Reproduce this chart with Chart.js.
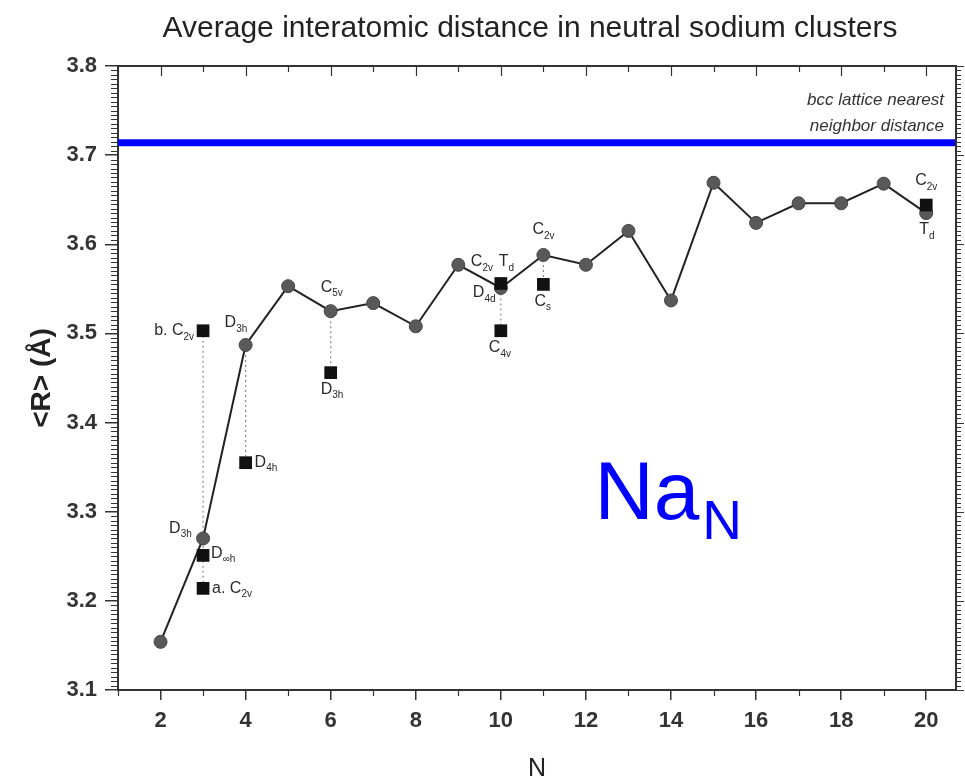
<!DOCTYPE html>
<html>
<head>
<meta charset="utf-8">
<script src="https://cdn.jsdelivr.net/npm/chart.js@4.4.1/dist/chart.umd.min.js"></script>
<style>
  html, body { margin: 0; padding: 0; background: #fff; }
  canvas { display: block; }
</style>
</head>
<body>
<canvas id="chart" width="965" height="783"></canvas>
<script>
// --- data ---
const N_VALUES = [2, 3, 4, 5, 6, 7, 8, 9, 10, 11, 12, 13, 14, 15, 16, 17, 18, 19, 20];
const R_MEAN   = [3.154, 3.270, 3.487, 3.553, 3.525, 3.534, 3.508, 3.577, 3.551, 3.588,
                  3.577, 3.615, 3.537, 3.669, 3.624, 3.646, 3.646, 3.668, 3.635];

// other isomers (squares)
const ISO_N = [3, 3, 3, 4, 6, 10, 10, 11, 20];
const ISO_R = [3.503, 3.251, 3.214, 3.355, 3.456, 3.556, 3.503, 3.555, 3.644];

const BCC_NN = 3.714;
const X_RANGE = [1, 20.7];
const Y_RANGE = [3.1, 3.8];
const X_TICKS = [2, 4, 6, 8, 10, 12, 14, 16, 18, 20];
const Y_TICKS = [3.1, 3.2, 3.3, 3.4, 3.5, 3.6, 3.7, 3.8];

// symmetry labels: value anchor + small pixel offset
const SYM_LABELS = [
    { n: 3,  r: 3.503, main: 'b. C', sub: '2v', dx: -9,  dy: 0, align: 'right' },
    { n: 4,  r: 3.487, main: 'D', sub: '3h', dx: -21, dy: -22 },
    { n: 4,  r: 3.355, main: 'D', sub: '4h', dx: 9,   dy: 0 },
    { n: 3,  r: 3.270, main: 'D', sub: '3h', dx: -34, dy: -10 },
    { n: 3,  r: 3.251, main: 'D', sub: '∞h', dx: 8,   dy: -2 },
    { n: 3,  r: 3.214, main: 'a. C', sub: '2v', dx: 9, dy: 0 },
    { n: 6,  r: 3.525, main: 'C', sub: '5v', dx: -10, dy: -24 },
    { n: 6,  r: 3.456, main: 'D', sub: '3h', dx: -10, dy: 17 },
    { n: 10, r: 3.551, main: 'C', sub: '2v', dx: -30, dy: -26 },
    { n: 10, r: 3.551, main: 'T', sub: 'd',  dx: -2,  dy: -26 },
    { n: 10, r: 3.551, main: 'D', sub: '4d', dx: -28, dy: 5 },
    { n: 10, r: 3.503, main: 'C', sub: '4v', dx: -12, dy: 17 },
    { n: 11, r: 3.588, main: 'C', sub: '2v', dx: -11, dy: -25 },
    { n: 11, r: 3.555, main: 'C', sub: 's',  dx: -9,  dy: 17 },
    { n: 20, r: 3.644, main: 'C', sub: '2v', dx: -11, dy: -24 },
    { n: 20, r: 3.635, main: 'T', sub: 'd',  dx: -7,  dy: 17 },
];

const FONT = "'Liberation Sans', Arial, sans-serif";
const AXIS = '#333';

// dotted connectors between isomers of the same N
const connectorPoints = [];
[...new Set(ISO_N)].forEach(n => {
    const vals = ISO_R.filter((r, i) => ISO_N[i] === n);
    const gi = N_VALUES.indexOf(n);
    if (gi >= 0) vals.push(R_MEAN[gi]);
    if (vals.length < 2) return;
    connectorPoints.push({ x: n, y: Math.max(...vals) }, { x: n, y: Math.min(...vals) }, { x: n, y: null });
});

// frame, minor ticks, labels, title
const decorPlugin = {
    id: 'decor',
    afterDraw(chart) {
        const { ctx, chartArea: a, scales: { x, y } } = chart;
        ctx.save();
        ctx.strokeStyle = AXIS;
        ctx.lineWidth = 2;
        ctx.beginPath();
        ctx.moveTo(a.left, a.top); ctx.lineTo(a.right, a.top); ctx.lineTo(a.right, a.bottom);
        ctx.stroke();

        ctx.lineWidth = 1.2;
        ctx.beginPath();
        for (let i = 0; i <= 140; i++) {
            const v = Y_RANGE[0] + i * 0.005;
            const py = Math.round(y.getPixelForValue(v)) + 0.5;
            const major = i % 20 === 0;
            if (!major) { ctx.moveTo(a.left - 7, py); ctx.lineTo(a.left, py); }
            ctx.moveTo(a.right, py); ctx.lineTo(a.right + (major ? 8 : 5), py);
        }
        for (let n = 1; n <= 20; n++) {
            const px = Math.round(x.getPixelForValue(n)) + 0.5;
            const major = n % 2 === 0;
            ctx.moveTo(px, a.top); ctx.lineTo(px, a.top + (major ? 10 : 6));
            if (!major) { ctx.moveTo(px, a.bottom); ctx.lineTo(px, a.bottom + 6); }
        }
        ctx.stroke();

        // title
        ctx.fillStyle = '#222';
        ctx.font = `30px ${FONT}`;
        ctx.textAlign = 'center';
        ctx.textBaseline = 'middle';
        ctx.fillText('Average interatomic distance in neutral sodium clusters', 530, 29);

        // bcc note
        ctx.font = `italic 17px ${FONT}`;
        ctx.textAlign = 'right';
        ctx.fillStyle = '#333';
        const by = y.getPixelForValue(BCC_NN);
        ctx.fillText('bcc lattice nearest', a.right - 12, by - 42);
        ctx.fillText('neighbor distance', a.right - 12, by - 16);

        // symmetry labels
        ctx.textAlign = 'left';
        SYM_LABELS.forEach(l => {
            ctx.font = `16px ${FONT}`;
            const w1 = ctx.measureText(l.main).width;
            ctx.font = `10px ${FONT}`;
            const w2 = ctx.measureText(l.sub).width;
            let px = x.getPixelForValue(l.n) + l.dx;
            const py = y.getPixelForValue(l.r) + l.dy;
            if (l.align === 'right') px -= w1 + w2;
            ctx.fillStyle = '#2a2a2a';
            ctx.font = `16px ${FONT}`;
            ctx.fillText(l.main, px, py);
            ctx.font = `10px ${FONT}`;
            ctx.fillText(l.sub, px + w1, py + 6);
        });

        // Na_N
        ctx.fillStyle = '#0000ff';
        ctx.textBaseline = 'alphabetic';
        ctx.font = `82px ${FONT}`;
        const nx = x.getPixelForValue(12.2), ny = y.getPixelForValue(3.292);
        ctx.fillText('Na', nx, ny);
        const wNa = ctx.measureText('Na').width;
        ctx.font = `55px ${FONT}`;
        ctx.fillText('N', nx + wNa + 3, ny + 20);
        ctx.restore();
    }
};

new Chart(document.getElementById('chart'), {
    type: 'line',
    plugins: [decorPlugin],
    data: {
        datasets: [
            {
                data: ISO_N.map((n, i) => ({ x: n, y: ISO_R[i] })),
                showLine: false,
                pointStyle: 'rect',
                pointRadius: 9,
                backgroundColor: '#111',
                borderColor: '#111',
                borderWidth: 0,
                order: 0,
            },
            {
                data: N_VALUES.map((n, i) => ({ x: n, y: R_MEAN[i] })),
                borderColor: '#222',
                borderWidth: 2,
                pointRadius: 6.5,
                pointBackgroundColor: '#595959',
                pointBorderColor: '#444',
                pointBorderWidth: 1,
                tension: 0,
                order: 1,
            },
            {
                data: connectorPoints,
                borderColor: '#888',
                borderWidth: 1.2,
                borderDash: [2, 3],
                pointRadius: 0,
                spanGaps: false,
                order: 2,
            },
            {
                data: [{ x: X_RANGE[0], y: BCC_NN }, { x: X_RANGE[1], y: BCC_NN }],
                borderColor: '#0000ff',
                borderWidth: 7,
                pointRadius: 0,
                order: 3,
            },
        ]
    },
    options: {
        responsive: false,
        animation: false,
        layout: { padding: { top: 66, right: 8, left: 0, bottom: 0 } },
        scales: {
            x: {
                type: 'linear',
                min: X_RANGE[0],
                max: X_RANGE[1],
                afterBuildTicks(s) { s.ticks = X_TICKS.map(v => ({ value: v })); },
                afterFit(s) { s.height = 93; },
                border: { display: true, color: AXIS, width: 2 },
                grid: { drawOnChartArea: false, drawTicks: true, tickLength: 10, color: AXIS, lineWidth: 1.5 },
                ticks: { color: '#333', padding: 8, maxRotation: 0, font: { family: FONT, size: 22, weight: 'bold' } },
                title: { display: true, text: 'N', color: '#222', padding: { top: 0, bottom: 1 },
                         font: { family: FONT, size: 25, lineHeight: 1 } },
            },
            y: {
                min: Y_RANGE[0],
                max: Y_RANGE[1],
                afterBuildTicks(s) { s.ticks = Y_TICKS.map(v => ({ value: v })); },
                afterFit(s) { s.width = 118; },
                border: { display: true, color: AXIS, width: 2 },
                grid: { drawOnChartArea: false, drawTicks: true, tickLength: 13, color: AXIS, lineWidth: 1.5 },
                ticks: { color: '#333', padding: 8, callback: v => v.toFixed(1),
                         font: { family: FONT, size: 22, weight: 'bold' } },
                title: { display: true, text: '<R> (Å)', color: '#222', padding: { top: 25, bottom: 0 },
                         font: { family: FONT, size: 28, weight: 'bold', lineHeight: 1.2 } },
            }
        },
        plugins: {
            legend: { display: false },
            tooltip: { enabled: false },
        }
    }
});
</script>
</body>
</html>
